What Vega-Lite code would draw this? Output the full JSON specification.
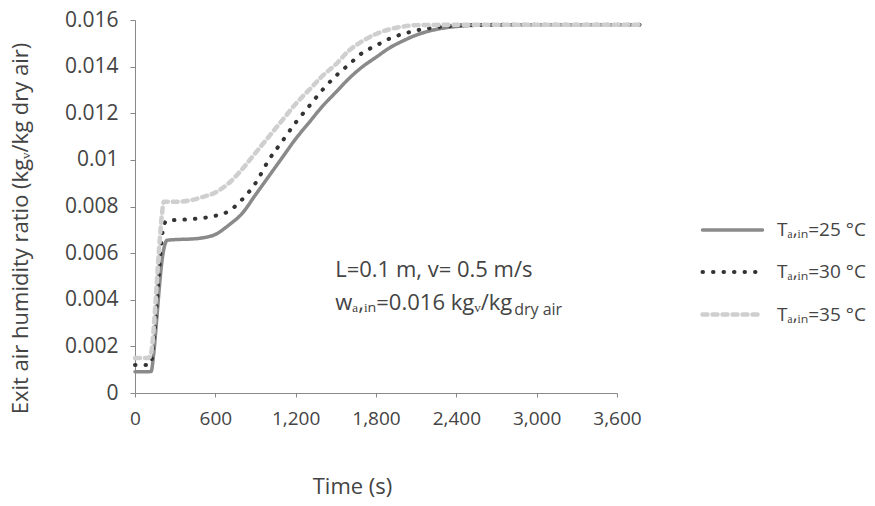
{
  "$schema": "https://vega.github.io/schema/vega-lite/v6.json",
  "autosize": {"type": "none"},
  "padding": {"left": 135, "top": 20, "right": 258, "bottom": 113},
  "width": 482,
  "height": 373,
  "background": "white",
  "config": {
    "font": "Open Sans",
    "view": {"stroke": null},
    "axis": {"grid": false, "domainColor": "#888", "tickColor": "#888", "labelColor": "#444", "titleColor": "#444", "labelFont": "Open Sans", "titleFont": "Open Sans", "titleFontWeight": "normal", "labelOverlap": false, "labelFlush": false}
  },
  "datasets": {
    "curves": [
      {"s": "25", "t": 0, "w": 0.00091}, {"s": "25", "t": 60, "w": 0.00091}, {"s": "25", "t": 120, "w": 0.00092},
      {"s": "25", "t": 140, "w": 0.0017}, {"s": "25", "t": 160, "w": 0.003}, {"s": "25", "t": 180, "w": 0.0044},
      {"s": "25", "t": 200, "w": 0.0056}, {"s": "25", "t": 225, "w": 0.0064}, {"s": "25", "t": 240, "w": 0.00655},
      {"s": "25", "t": 300, "w": 0.00658}, {"s": "25", "t": 400, "w": 0.0066}, {"s": "25", "t": 500, "w": 0.00665},
      {"s": "25", "t": 600, "w": 0.0068}, {"s": "25", "t": 700, "w": 0.0072}, {"s": "25", "t": 800, "w": 0.0077},
      {"s": "25", "t": 900, "w": 0.0085}, {"s": "25", "t": 1000, "w": 0.0093}, {"s": "25", "t": 1100, "w": 0.0101},
      {"s": "25", "t": 1200, "w": 0.0109}, {"s": "25", "t": 1300, "w": 0.0116}, {"s": "25", "t": 1400, "w": 0.0123},
      {"s": "25", "t": 1500, "w": 0.0129}, {"s": "25", "t": 1600, "w": 0.0135}, {"s": "25", "t": 1700, "w": 0.014},
      {"s": "25", "t": 1800, "w": 0.0144}, {"s": "25", "t": 1900, "w": 0.0148}, {"s": "25", "t": 2000, "w": 0.0151},
      {"s": "25", "t": 2100, "w": 0.01535}, {"s": "25", "t": 2200, "w": 0.01553}, {"s": "25", "t": 2300, "w": 0.01565},
      {"s": "25", "t": 2400, "w": 0.01572}, {"s": "25", "t": 2600, "w": 0.01578}, {"s": "25", "t": 3000, "w": 0.0158},
      {"s": "25", "t": 3770, "w": 0.0158},
      {"s": "30", "t": 0, "w": 0.0012}, {"s": "30", "t": 100, "w": 0.0012}, {"s": "30", "t": 120, "w": 0.0013},
      {"s": "30", "t": 140, "w": 0.0022}, {"s": "30", "t": 160, "w": 0.0036}, {"s": "30", "t": 180, "w": 0.0052},
      {"s": "30", "t": 200, "w": 0.0066}, {"s": "30", "t": 215, "w": 0.0072}, {"s": "30", "t": 240, "w": 0.0074},
      {"s": "30", "t": 300, "w": 0.00742}, {"s": "30", "t": 400, "w": 0.00745}, {"s": "30", "t": 500, "w": 0.0075},
      {"s": "30", "t": 600, "w": 0.0076}, {"s": "30", "t": 700, "w": 0.0078}, {"s": "30", "t": 800, "w": 0.0083},
      {"s": "30", "t": 900, "w": 0.009}, {"s": "30", "t": 1000, "w": 0.01}, {"s": "30", "t": 1100, "w": 0.0108},
      {"s": "30", "t": 1200, "w": 0.0116}, {"s": "30", "t": 1300, "w": 0.0123}, {"s": "30", "t": 1400, "w": 0.013},
      {"s": "30", "t": 1500, "w": 0.0136}, {"s": "30", "t": 1600, "w": 0.0141}, {"s": "30", "t": 1700, "w": 0.0146},
      {"s": "30", "t": 1800, "w": 0.0149}, {"s": "30", "t": 1900, "w": 0.0152}, {"s": "30", "t": 2000, "w": 0.0154},
      {"s": "30", "t": 2100, "w": 0.01555}, {"s": "30", "t": 2200, "w": 0.01565}, {"s": "30", "t": 2300, "w": 0.01572},
      {"s": "30", "t": 2500, "w": 0.01578}, {"s": "30", "t": 3000, "w": 0.0158}, {"s": "30", "t": 3770, "w": 0.0158},
      {"s": "35", "t": 0, "w": 0.0015}, {"s": "35", "t": 100, "w": 0.0015}, {"s": "35", "t": 120, "w": 0.0017},
      {"s": "35", "t": 140, "w": 0.0028}, {"s": "35", "t": 160, "w": 0.0045}, {"s": "35", "t": 180, "w": 0.0062},
      {"s": "35", "t": 200, "w": 0.0076}, {"s": "35", "t": 215, "w": 0.0082}, {"s": "35", "t": 300, "w": 0.0082},
      {"s": "35", "t": 400, "w": 0.00825}, {"s": "35", "t": 500, "w": 0.0084}, {"s": "35", "t": 600, "w": 0.0086},
      {"s": "35", "t": 700, "w": 0.009}, {"s": "35", "t": 800, "w": 0.0096}, {"s": "35", "t": 900, "w": 0.0103},
      {"s": "35", "t": 1000, "w": 0.011}, {"s": "35", "t": 1100, "w": 0.0117}, {"s": "35", "t": 1200, "w": 0.0124},
      {"s": "35", "t": 1300, "w": 0.013}, {"s": "35", "t": 1400, "w": 0.0136}, {"s": "35", "t": 1500, "w": 0.0141},
      {"s": "35", "t": 1600, "w": 0.0147}, {"s": "35", "t": 1700, "w": 0.0151}, {"s": "35", "t": 1800, "w": 0.0154},
      {"s": "35", "t": 1900, "w": 0.0156}, {"s": "35", "t": 2000, "w": 0.01572}, {"s": "35", "t": 2100, "w": 0.01578},
      {"s": "35", "t": 2600, "w": 0.0158}, {"s": "35", "t": 3770, "w": 0.0158}
    ],
    "notes": [
      {"t": 1495, "w": 0.00528, "txt": "L=0.1 m, v= 0.5 m/s"},
      {"t": 1495, "w": 0.00386, "txt": "wₐ,ᵢₙ=0.016 kgᵥ/kg"}
    ],
    "notes2": [
      {"t": 1495, "w": 0.00386, "txt": "dry air"}
    ]
  },
  "layer": [
    {
      "data": {"name": "curves"},
      "mark": {"type": "line", "strokeCap": "round", "clip": false, "interpolate": "monotone"},
      "encoding": {
        "x": {"field": "t", "type": "quantitative",
          "scale": {"domain": [0, 3600], "nice": false, "zero": false},
          "axis": {"values": [0, 600, 1200, 1800, 2400, 3000, 3600], "labelExpr": "format(datum.value, ',.0f')", "title": "Time (s)", "titleFontSize": 22, "labelFontSize": 19, "tickSize": 4, "labelPadding": 12, "titlePadding": 48, "titleX": 217}},
        "y": {"field": "w", "type": "quantitative",
          "scale": {"domain": [0, 0.016], "nice": false},
          "axis": {"values": [0, 0.002, 0.004, 0.006, 0.008, 0.01, 0.012, 0.014, 0.016], "format": "~g", "title": "Exit air humidity ratio (kgᵥ/kg dry air)", "titleFontSize": 22, "labelFontSize": 21, "tickSize": 5, "labelPadding": 12, "titlePadding": 32, "titleY": 208}},
        "color": {"field": "s", "type": "nominal",
          "scale": {"domain": ["25", "30", "35"], "range": ["#8a8a8a", "#333333", "#cfcfcf"]},
          "legend": {"orient": "none", "legendX": 565, "legendY": 178, "title": null, "symbolType": "stroke", "symbolSize": 3600, "symbolStrokeWidth": 3.5, "labelFontSize": 19, "labelFont": "Open Sans", "labelColor": "#444", "rowPadding": -20, "labelOffset": 12,
            "labelExpr": "'Tₐ,ᵢₙ=' + datum.label + ' °C'",
            "encode": {"symbols": {"update": {"strokeCap": {"value": "round"}}}}}},
        "strokeDash": {"field": "s", "type": "nominal",
          "scale": {"domain": ["25", "30", "35"], "range": [[1, 0], [0.5, 10], [5, 5]]},
          "legend": null},
        "strokeWidth": {"field": "s", "type": "nominal",
          "scale": {"domain": ["25", "30", "35"], "range": [3.5, 4.5, 3.5]},
          "legend": null}
      }
    },
    {
      "data": {"name": "notes"},
      "mark": {"type": "text", "align": "left", "baseline": "middle", "fontSize": 22, "color": "#444"},
      "encoding": {
        "x": {"field": "t", "type": "quantitative"},
        "y": {"field": "w", "type": "quantitative"},
        "text": {"field": "txt"}
      }
    },
    {
      "data": {"name": "notes2"},
      "mark": {"type": "text", "align": "left", "baseline": "middle", "fontSize": 16, "color": "#444", "dx": 179, "dy": 7},
      "encoding": {
        "x": {"field": "t", "type": "quantitative"},
        "y": {"field": "w", "type": "quantitative"},
        "text": {"field": "txt"}
      }
    }
  ]
}
